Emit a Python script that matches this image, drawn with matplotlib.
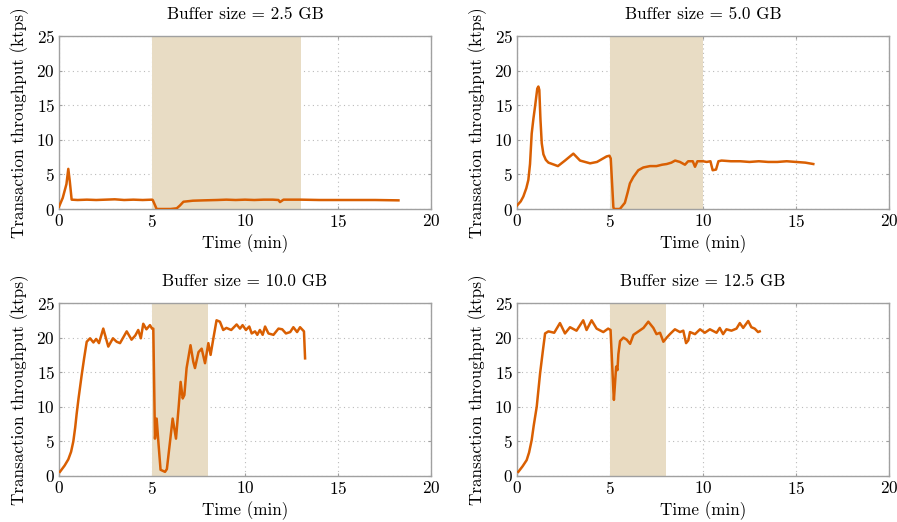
import matplotlib
matplotlib.use("Agg")
import matplotlib.pyplot as plt

plt.rcParams['font.family'] = ['cmr10', 'DejaVu Serif']
plt.rcParams['mathtext.fontset'] = 'cm'
plt.rcParams['axes.formatter.use_mathtext'] = True

titles = ["Buffer size = 2.5 GB", "Buffer size = 5.0 GB",
          "Buffer size = 10.0 GB", "Buffer size = 12.5 GB"]
shade_start = [5.0, 5.0, 5.0, 5.0]
shade_end = [13.0, 10.0, 8.0, 8.0]

t_25 = [0.0, 0.2, 0.4, 0.5, 0.58, 0.68, 1.0, 1.5, 2.0, 2.5, 3.0, 3.5, 4.0, 4.5, 5.0, 5.04,
        5.25, 5.6, 6.0, 6.33, 6.5, 6.69, 7.2, 7.8, 8.5, 9.0, 9.5, 10.0, 10.5, 11.0, 11.5, 11.8,
        11.88, 12.07, 12.5, 13.0, 14.0, 15.0, 16.0, 17.0, 18.25]
y_25 = [0.33, 1.6, 3.6, 5.8, 4.0, 1.35, 1.3, 1.35, 1.3, 1.35, 1.4, 1.3, 1.35, 1.3, 1.35, 1.3,
        0.0, 0.0, 0.0, 0.1, 0.5, 1.05, 1.2, 1.25, 1.3, 1.35, 1.3, 1.35, 1.3, 1.35, 1.35, 1.3,
        1.0, 1.35, 1.35, 1.35, 1.3, 1.3, 1.3, 1.3, 1.25]

t_50 = [0.0, 0.2, 0.34, 0.5, 0.61, 0.7, 0.79, 0.88, 0.97, 1.09, 1.15, 1.2, 1.26, 1.33, 1.42,
        1.55, 1.69, 2.0, 2.2, 2.58, 3.03,
        3.39, 3.93, 4.3, 4.82, 4.97, 5.04, 5.18, 5.21, 5.53, 5.8, 5.95, 6.07, 6.25, 6.52, 6.79, 7.15,
        7.5, 7.8, 8.05, 8.3, 8.5, 8.76, 9.03, 9.2, 9.45, 9.57, 9.7, 10.0, 10.2, 10.4, 10.52,
        10.7, 10.83, 11.0, 11.5, 12.0, 12.5, 13.0, 13.5, 14.0, 14.5, 15.0, 15.5, 15.93]
y_50 = [0.5, 1.1, 1.8, 3.0, 4.2, 6.5, 10.9, 13.0, 14.8, 17.4, 17.7, 17.2, 13.0, 9.5, 7.9,
        7.1, 6.7, 6.4, 6.2, 7.0, 8.0,
        7.0, 6.6, 6.8, 7.6, 7.7, 7.3, 0.3, 0.0, 0.0, 0.9, 2.4, 3.7, 4.6, 5.6, 6.0, 6.2,
        6.2, 6.4, 6.5, 6.7, 7.0, 6.8, 6.4, 6.9, 6.9, 6.1, 6.9, 6.9, 6.8, 6.9, 5.6,
        5.7, 6.9, 7.0, 6.9, 6.9, 6.8, 6.9, 6.8, 6.8, 6.9, 6.8, 6.7, 6.5]

t_100 = [0.05, 0.3, 0.5, 0.65, 0.77, 0.87, 0.95, 1.05, 1.22, 1.35, 1.49, 1.67, 1.85, 2.0, 2.15,
         2.38, 2.65, 2.9, 3.1,
         3.28, 3.45, 3.64, 3.9, 4.1, 4.26, 4.4, 4.53, 4.7, 4.89, 5.0, 5.07, 5.16, 5.25, 5.34,
         5.46, 5.7, 5.8, 5.97, 6.11, 6.29, 6.44, 6.54, 6.65, 6.74, 6.86, 7.07, 7.22, 7.31, 7.5,
         7.67, 7.85, 8.03, 8.15, 8.3, 8.47, 8.65, 8.83, 9.0, 9.26, 9.55, 9.73, 9.87, 10.05,
         10.23, 10.36, 10.54, 10.66, 10.8, 10.95, 11.08, 11.26, 11.53, 11.8, 12.0, 12.2, 12.43,
         12.6, 12.8, 12.96, 13.17, 13.23]
y_100 = [0.6, 1.5, 2.4, 3.5, 5.0, 7.0, 9.0, 11.2, 14.6, 17.0, 19.4, 19.9, 19.3, 19.8, 19.2,
         21.3, 18.7, 19.9, 19.4,
         19.2, 20.0, 20.9, 19.7, 20.3, 21.1, 19.9, 22.0, 21.2, 21.8, 21.3, 21.3, 5.4, 8.3, 5.0,
         0.9, 0.6, 1.0, 5.0, 8.3, 5.4, 10.2, 13.6, 11.2, 11.7, 15.6, 18.9, 16.5, 15.6, 17.9,
         18.4, 16.3, 19.2, 17.5, 19.9, 22.5, 22.3, 21.1, 21.4, 21.1, 21.9, 21.3, 21.8, 21.1,
         21.6, 20.6, 20.9, 20.4, 21.1, 20.4, 21.6, 20.6, 20.4, 21.3, 21.2, 20.6, 20.8,
         21.5, 20.8, 21.5, 20.9, 17.0]

t_125 = [0.07, 0.3, 0.52, 0.65, 0.79, 0.9, 1.06, 1.24, 1.4, 1.51, 1.69, 2.0, 2.31, 2.58, 2.85,
         3.2, 3.56, 3.74,
         4.01, 4.28, 4.64, 4.9, 5.03, 5.18, 5.21, 5.33, 5.4, 5.45, 5.54, 5.72, 5.9, 6.08, 6.26,
         6.53, 6.8, 7.06, 7.33, 7.5, 7.69, 7.87, 8.05, 8.22, 8.49, 8.76, 8.94, 9.09, 9.21, 9.3,
         9.57, 9.84, 10.1, 10.37, 10.73, 10.9, 11.08, 11.26, 11.53, 11.8, 11.98, 12.16, 12.43,
         12.6, 12.78, 12.96, 13.05]
y_125 = [0.6, 1.4, 2.3, 3.4, 5.2, 7.3, 10.0, 14.8, 18.3, 20.6, 20.9, 20.7, 22.1, 20.6, 21.5,
         21.0, 22.5, 21.1,
         22.5, 21.3, 20.8, 21.3, 21.1, 12.4, 11.0, 15.8, 15.3, 17.6, 19.5, 20.0, 19.7, 19.1, 20.4,
         20.9, 21.4, 22.3, 21.4, 20.5, 20.7, 19.4, 20.0, 20.5, 21.2, 20.8, 21.0, 19.2, 19.6, 20.8,
         20.5, 21.2, 20.7, 21.2, 20.7, 21.4, 20.5, 21.2, 21.0, 21.3, 22.1, 21.4, 22.4,
         21.5, 21.3, 20.8, 20.9]

series_t = [t_25, t_50, t_100, t_125]
series_y = [y_25, y_50, y_100, y_125]

line_color = "#D95F02"
shade_color = "#E8DCC4"
spine_color = "#A0A0A0"
fs = 12.3

fig = plt.figure(figsize=(8.97, 5.22), dpi=100)
W, H = 897.0, 522.0
lefts = [59, 517, 59, 517]
bottoms = [209, 209, 476, 476]
for i in range(4):
    l = lefts[i] / W
    b = 1 - bottoms[i] / H
    ax = fig.add_axes([l, b, 372 / W, 173 / H])
    ax.set_axisbelow(True)
    ax.grid(True, linestyle=(0, (1, 3)), color="#BBBBBB", linewidth=0.8)
    ax.axvspan(shade_start[i], shade_end[i], color=shade_color, zorder=1, linewidth=0)
    ax.plot(series_t[i], series_y[i], color=line_color, linewidth=1.8, zorder=3)
    ax.set_xlim(0, 20)
    ax.set_ylim(0, 25)
    ax.set_xticks([0, 5, 10, 15, 20])
    ax.set_yticks([0, 5, 10, 15, 20, 25])
    for s in ax.spines.values():
        s.set_color(spine_color)
        s.set_linewidth(1.0)
    ax.tick_params(direction="in", length=2.0, color=spine_color, labelsize=fs,
                   top=True, right=True, pad=3)
    ax.set_title(titles[i], fontsize=fs, pad=12)
    ax.set_xlabel("Time (min)", fontsize=fs, labelpad=3)
    ax.set_ylabel("Transaction throughput (ktps)", fontsize=fs, labelpad=5)

fig.savefig("out.png", dpi=100)
